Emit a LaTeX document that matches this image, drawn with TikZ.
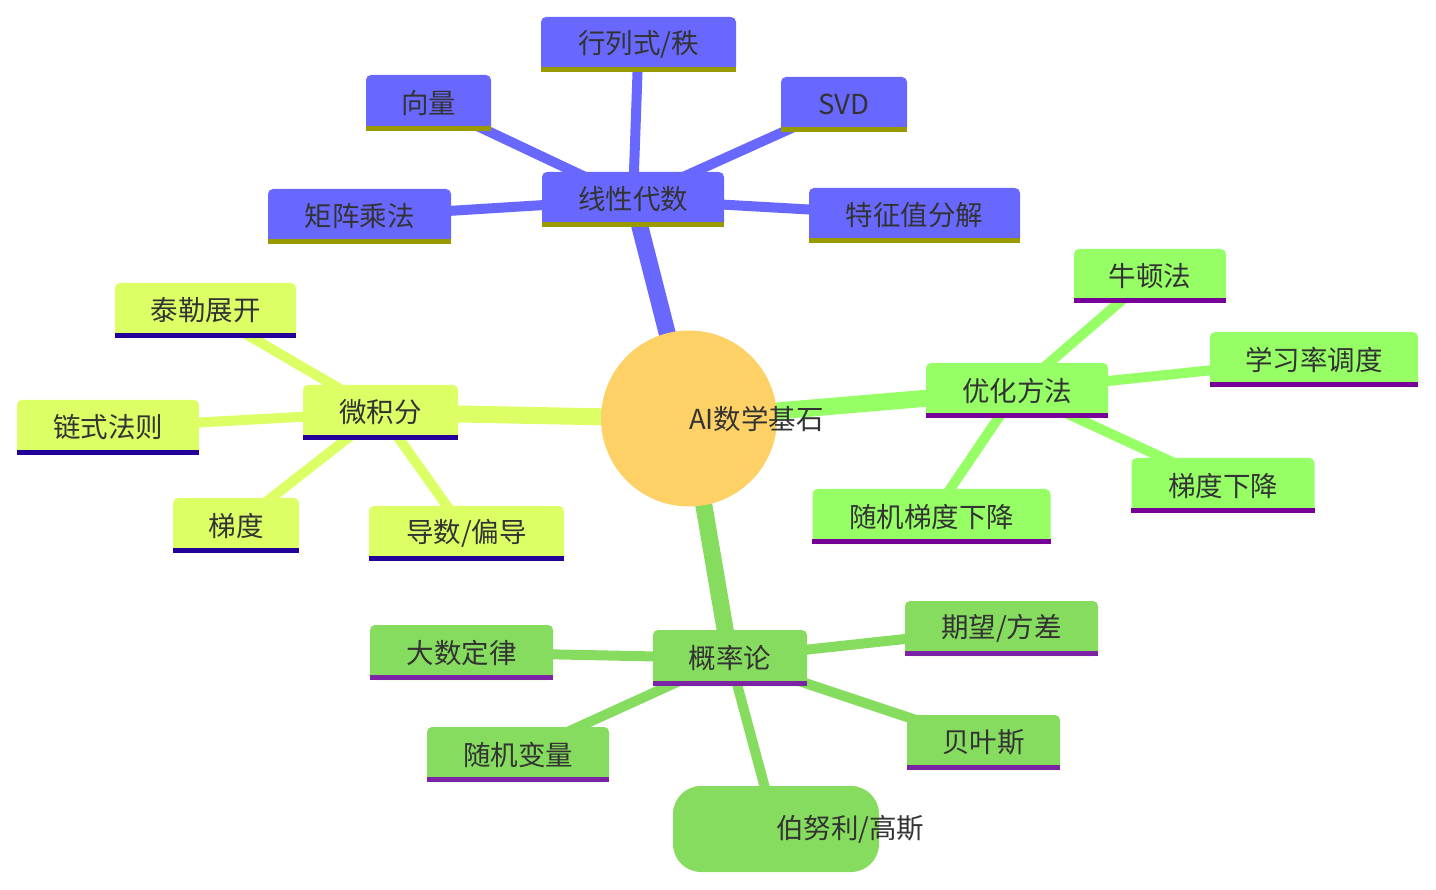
\documentclass[tikz,border=0pt]{standalone}
\usepackage{fontspec}
\setmainfont{Noto Sans CJK SC}
\pgfdeclarelayer{bg}
\pgfsetlayers{bg,main}
\definecolor{txt}{HTML}{333333}
\definecolor{cblue}{HTML}{6868FF}
\definecolor{ublue}{HTML}{999900}
\definecolor{cyel}{HTML}{DCFF66}
\definecolor{uyel}{HTML}{220099}
\definecolor{cgre}{HTML}{96FF66}
\definecolor{ugre}{HTML}{770099}
\definecolor{cpro}{HTML}{86DC5E}
\definecolor{upro}{HTML}{7B22A5}
\definecolor{ccen}{HTML}{FDD166}
\newcommand\mmfont{\fontsize{27.5pt}{32pt}\selectfont}
\tikzset{
  mm/.style={rectangle, rounded corners=5pt, inner sep=0pt, text=txt, font=\mmfont},
  mainedge/.style={line width=17pt},
  subedge/.style={line width=10pt},
}
\newcommand\mmbox[8]{%
  \node[mm, fill=#6, minimum width=#4pt, minimum height=#5pt] (#1) at (#2,#3) {#8};
  \fill[#7] ([yshift=5pt]#1.south west) rectangle (#1.south east);
}
\begin{document}
\begin{tikzpicture}[x=1pt,y=-1pt]
\useasboundingbox (0,0) rectangle (1436,890);
% center
\node[circle, fill=ccen, minimum size=176pt, inner sep=0pt] (c) at (689,418.5) {};
\node[anchor=west, inner sep=0pt, text=txt, font=\mmfont] (ct) at (c.center) {AI数学基石};
% linear algebra
\mmbox{la}{633}{199.5}{182}{55}{cblue}{ublue}{线性代数}
\mmbox{det}{638.5}{44.5}{195}{55}{cblue}{ublue}{行列式/秩}
\mmbox{vec}{428.5}{103}{125}{56}{cblue}{ublue}{向量}
\mmbox{svd}{844}{104.5}{126}{55}{cblue}{ublue}{SVD}
\mmbox{mat}{359.5}{216.5}{183}{55}{cblue}{ublue}{矩阵乘法}
\mmbox{eig}{914.5}{215.5}{211}{55}{cblue}{ublue}{特征值分解}
% calculus
\mmbox{calc}{380.5}{412.5}{155}{55}{cyel}{uyel}{微积分}
\mmbox{taylor}{205.5}{310.5}{181}{55}{cyel}{uyel}{泰勒展开}
\mmbox{chain}{108}{427.5}{182}{55}{cyel}{uyel}{链式法则}
\mmbox{grad}{236}{525.5}{126}{55}{cyel}{uyel}{梯度}
\mmbox{deriv}{466.5}{533.5}{195}{55}{cyel}{uyel}{导数/偏导}
% optimization
\mmbox{opt}{1017}{390.5}{182}{55}{cgre}{ugre}{优化方法}
\mmbox{newton}{1150}{276}{152}{54}{cgre}{ugre}{牛顿法}
\mmbox{lr}{1314}{359.5}{208}{55}{cgre}{ugre}{学习率调度}
\mmbox{gd}{1223}{485.5}{183}{55}{cgre}{ugre}{梯度下降}
\mmbox{sgd}{931.5}{516.5}{238}{55}{cgre}{ugre}{随机梯度下降}
% probability
\mmbox{prob}{730}{658}{154}{56}{cpro}{upro}{概率论}
\mmbox{exp}{1001.5}{628.5}{193}{55}{cpro}{upro}{期望/方差}
\mmbox{lln}{461.5}{652.5}{183}{55}{cpro}{upro}{大数定律}
\mmbox{bayes}{983.5}{742.5}{153}{55}{cpro}{upro}{贝叶斯}
\mmbox{rv}{518}{754.5}{182}{55}{cpro}{upro}{随机变量}
\node[rectangle, rounded corners=28pt, fill=cpro, minimum width=206pt, minimum height=86pt, inner sep=0pt] (bern) at (776,829) {};
\node[anchor=west, inner sep=0pt, text=txt, font=\mmfont] (bt) at (bern.center) {伯努利/高斯};
% edges
\begin{pgfonlayer}{bg}
\draw[mainedge, cblue] (c.center) -- (la.center);
\draw[mainedge, cyel] (c.center) -- (calc.center);
\draw[mainedge, cgre] (c.center) -- (opt.center);
\draw[mainedge, cpro] (c.center) -- (prob.center);
\foreach \n in {det,vec,svd,mat,eig} \draw[subedge, cblue] (la.center) -- (\n.center);
\foreach \n in {taylor,chain,grad,deriv} \draw[subedge, cyel] (calc.center) -- (\n.center);
\foreach \n in {newton,lr,gd,sgd} \draw[subedge, cgre] (opt.center) -- (\n.center);
\foreach \n in {exp,lln,bayes,rv,bern} \draw[subedge, cpro] (prob.center) -- (\n.center);
\end{pgfonlayer}
\end{tikzpicture}
\end{document}
